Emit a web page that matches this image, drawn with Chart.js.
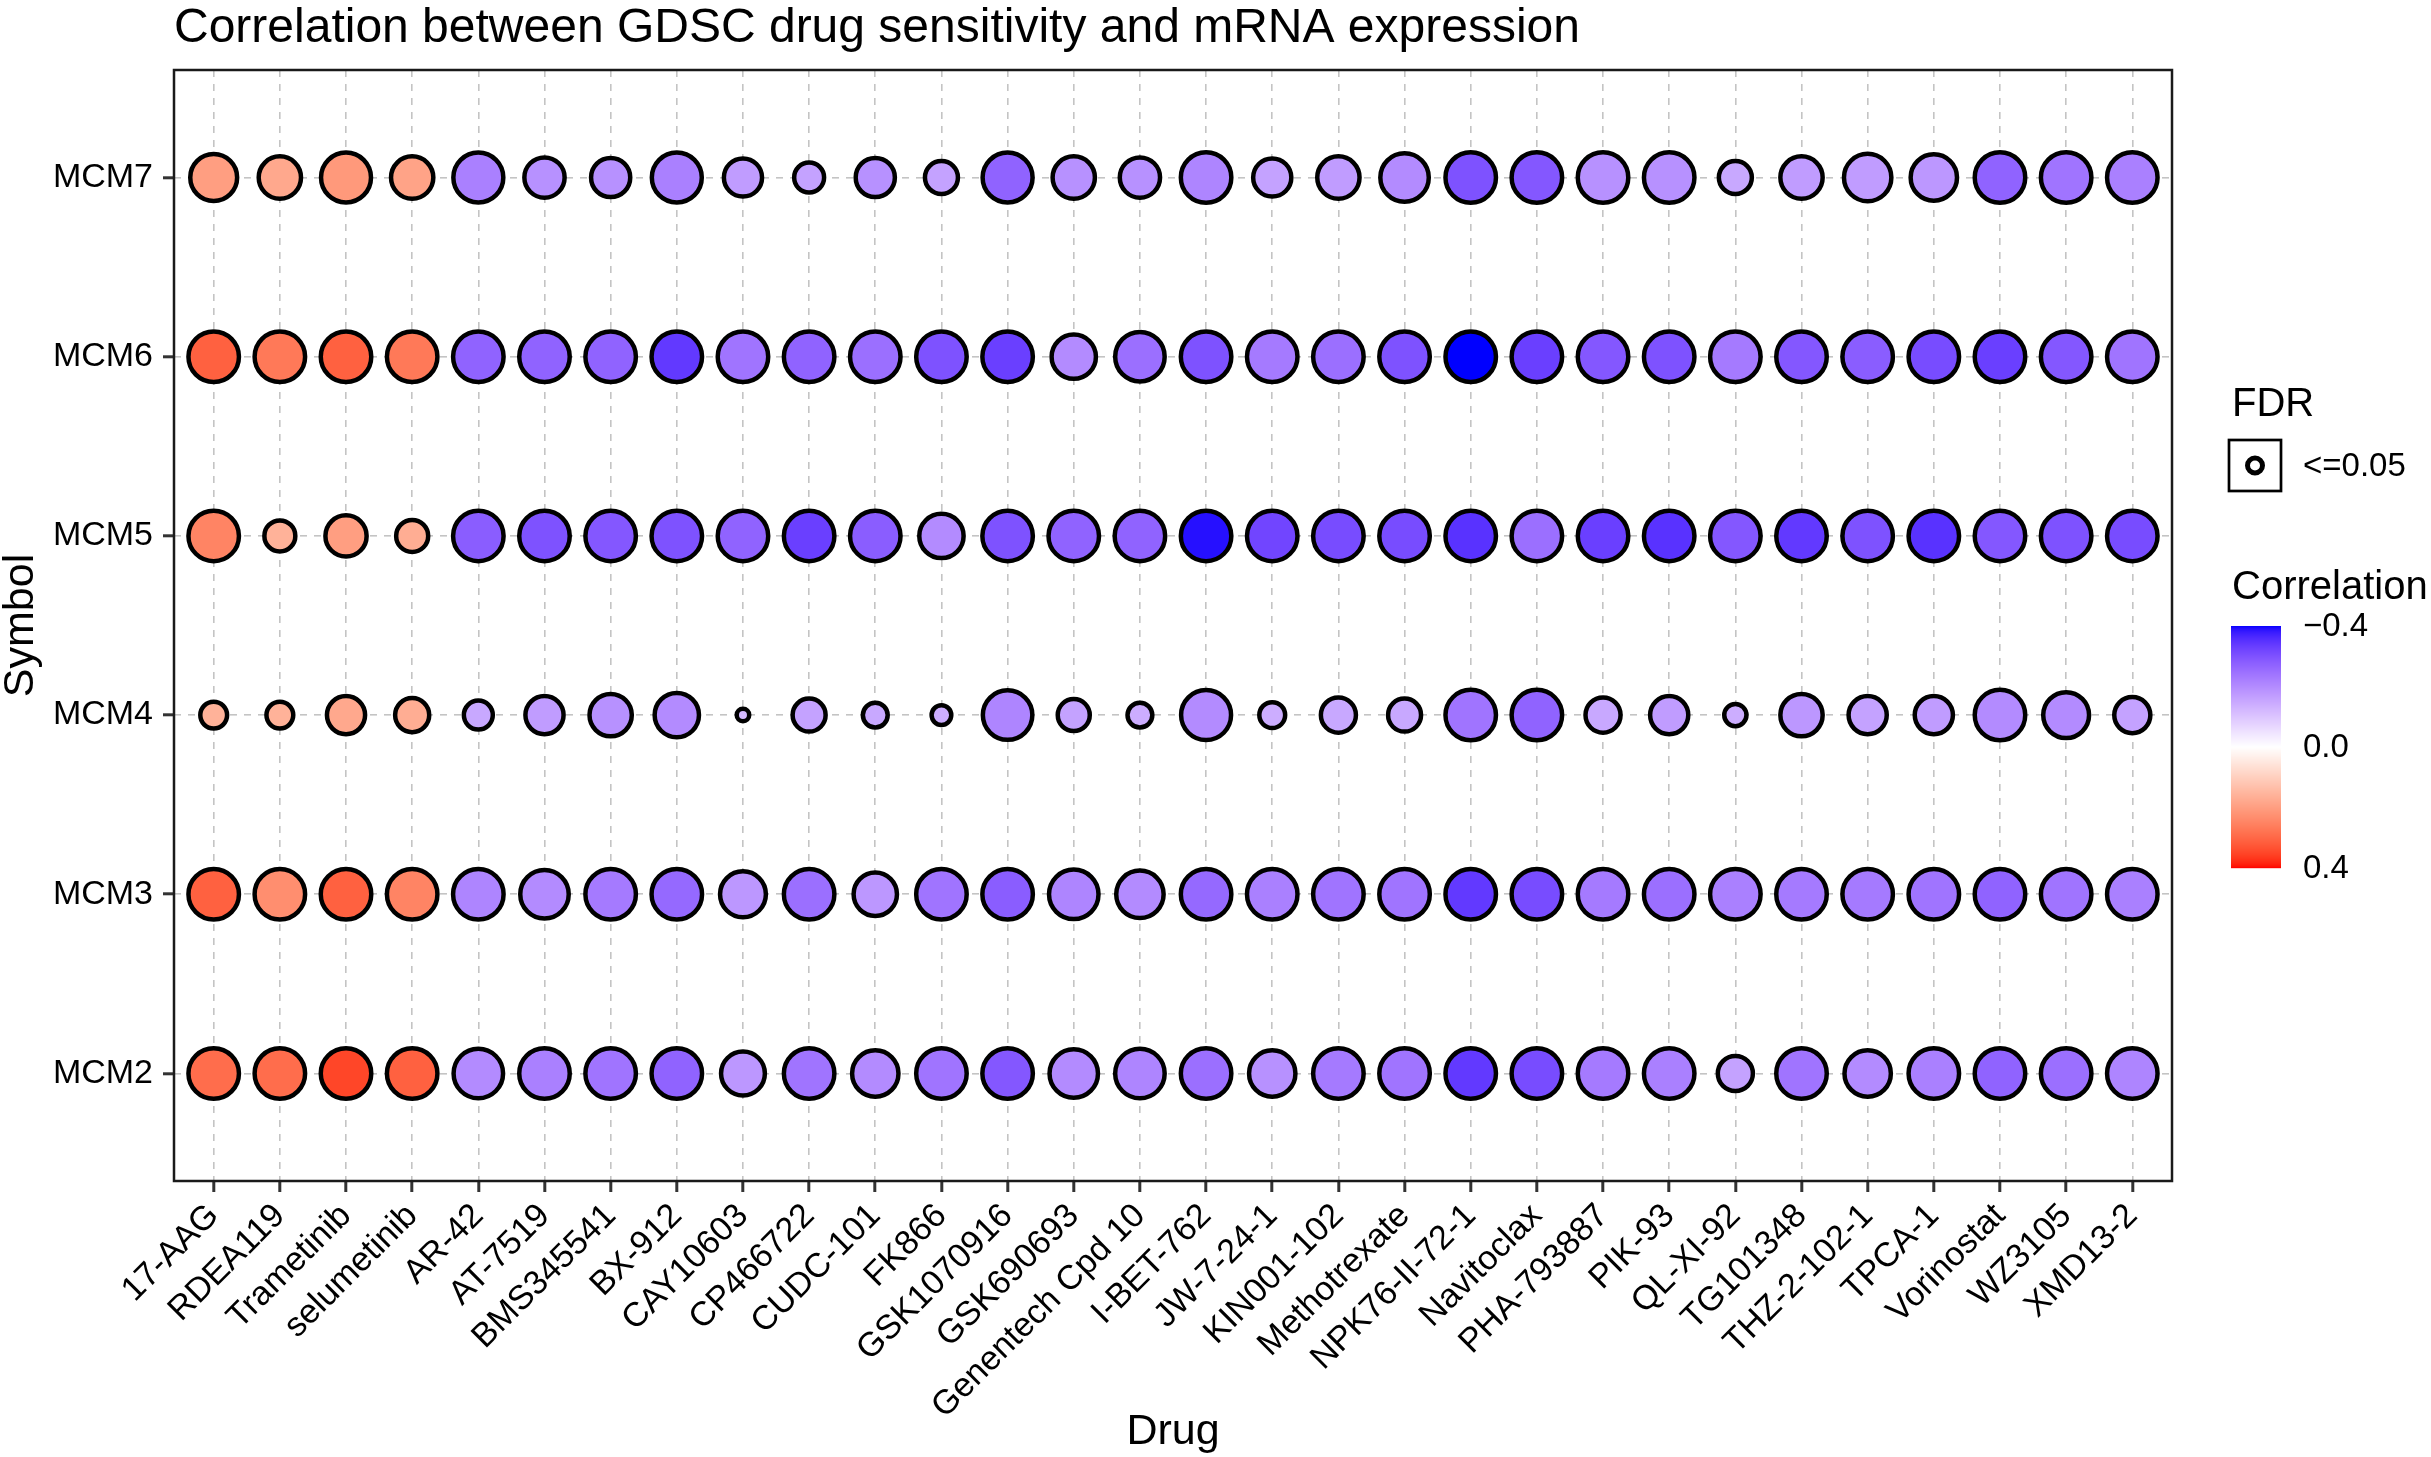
<!DOCTYPE html>
<html>
<head>
<meta charset="utf-8">
<script src="https://cdn.jsdelivr.net/npm/chart.js@4.4.0/dist/chart.umd.min.js"></script>
<style>
html, body { margin: 0; padding: 0; background: #fff; }
canvas { display: block; }
</style>
</head>
<body>
<canvas id="dot_Chart" width="2431" height="1457"></canvas>
<script>
// categories
var drugs = ['17-AAG', 'RDEA119', 'Trametinib', 'selumetinib', 'AR-42', 'AT-7519', 'BMS345541', 'BX-912',
	'CAY10603', 'CP466722', 'CUDC-101', 'FK866', 'GSK1070916', 'GSK690693', 'Genentech Cpd 10', 'I-BET-762',
	'JW-7-24-1', 'KIN001-102', 'Methotrexate', 'NPK76-II-72-1', 'Navitoclax', 'PHA-793887', 'PIK-93',
	'QL-XI-92', 'TG101348', 'THZ-2-102-1', 'TPCA-1', 'Vorinostat', 'WZ3105', 'XMD13-2'];
var symbols = ['MCM7', 'MCM6', 'MCM5', 'MCM4', 'MCM3', 'MCM2'];

// correlation (colour), one value per drug
var corMCM7 = [0.20, 0.18, 0.21, 0.19, -0.22, -0.19, -0.19, -0.22, -0.17, -0.16, -0.19, -0.16, -0.27, -0.19, -0.19, -0.21, -0.16, -0.17, -0.20, -0.30, -0.29, -0.19, -0.19, -0.15, -0.17, -0.17, -0.18, -0.27, -0.24, -0.22];
var corMCM6 = [0.31, 0.27, 0.31, 0.27, -0.27, -0.27, -0.27, -0.34, -0.24, -0.27, -0.25, -0.30, -0.33, -0.20, -0.25, -0.30, -0.23, -0.25, -0.30, -0.40, -0.33, -0.29, -0.30, -0.23, -0.29, -0.28, -0.31, -0.33, -0.29, -0.24];
var corMCM5 = [0.25, 0.16, 0.20, 0.17, -0.28, -0.30, -0.29, -0.30, -0.27, -0.33, -0.28, -0.20, -0.30, -0.27, -0.27, -0.39, -0.32, -0.31, -0.31, -0.35, -0.25, -0.33, -0.35, -0.29, -0.34, -0.30, -0.35, -0.29, -0.30, -0.31];
var corMCM4 = [0.16, 0.16, 0.18, 0.17, -0.15, -0.17, -0.19, -0.20, -0.12, -0.16, -0.15, -0.14, -0.21, -0.16, -0.14, -0.20, -0.14, -0.15, -0.15, -0.24, -0.27, -0.15, -0.17, -0.14, -0.18, -0.16, -0.17, -0.20, -0.20, -0.16];
var corMCM3 = [0.31, 0.23, 0.31, 0.25, -0.21, -0.20, -0.23, -0.26, -0.18, -0.25, -0.18, -0.24, -0.28, -0.21, -0.20, -0.26, -0.22, -0.24, -0.24, -0.34, -0.31, -0.23, -0.25, -0.22, -0.23, -0.23, -0.24, -0.27, -0.24, -0.22];
var corMCM2 = [0.29, 0.29, 0.35, 0.31, -0.20, -0.22, -0.24, -0.27, -0.18, -0.24, -0.20, -0.24, -0.29, -0.20, -0.21, -0.25, -0.19, -0.23, -0.24, -0.34, -0.31, -0.23, -0.22, -0.16, -0.24, -0.20, -0.22, -0.27, -0.25, -0.21];

// -log10(FDR) (point size)
var fdrMCM7 = [34.1, 27.3, 39.1, 27.3, 39.1, 24.5, 23.1, 39.1, 21.8, 12.7, 23.1, 15.8, 39.1, 27.3, 24.5, 40, 21.8, 27.3, 36.6, 40, 40, 40, 40, 15.8, 27.3, 34.9, 33.3, 40, 40, 40];
var fdrMCM6 = [40, 40, 40, 40, 40, 40, 40, 40, 40, 40, 40, 40, 40, 30.2, 38.3, 40, 40, 40, 40, 40, 40, 40, 40, 40, 40, 40, 40, 40, 40, 40];
var fdrMCM5 = [40, 13.7, 25.8, 14.8, 40, 40, 40, 40, 40, 40, 40, 30.2, 40, 40, 40, 40, 40, 40, 40, 40, 40, 40, 40, 40, 40, 40, 40, 40, 40, 40];
var fdrMCM4 = [9.9, 9.9, 21.8, 17.0, 11.8, 21.8, 27.3, 30.2, 1.5, 15.8, 8.3, 4.8, 38.3, 14.8, 8.3, 39.1, 9.1, 18.1, 15.8, 40, 40, 18.1, 21.8, 6.4, 27.3, 21.8, 21.8, 40, 32.5, 19.3];
var fdrMCM3 = [40, 40, 40, 40, 40, 36.6, 40, 40, 32.5, 40, 28.8, 40, 40, 38.3, 34.9, 40, 40, 40, 40, 40, 40, 40, 40, 40, 40, 40, 40, 40, 40, 40];
var fdrMCM2 = [40, 40, 40, 40, 38.3, 40, 40, 40, 29.5, 40, 33.3, 40, 40, 36.6, 38.3, 40, 33.3, 40, 40, 40, 40, 40, 40, 18.1, 40, 33.3, 40, 40, 40, 40];

var corRows = [corMCM7, corMCM6, corMCM5, corMCM4, corMCM3, corMCM2];
var fdrRows = [fdrMCM7, fdrMCM6, fdrMCM5, fdrMCM4, fdrMCM3, fdrMCM2];
var corLimit = 0.4;
var corTicks = [-0.4, 0.0, 0.4];

var FONT = "'Liberation Sans', Arial, sans-serif";
var BORDER_W = 4.5;

// ---- colour: white -> blue / red, mixed in Lab like ggplot's gradient2
function toLin(c) { c = c / 255; return c <= 0.04045 ? c / 12.92 : Math.pow((c + 0.055) / 1.055, 2.4); }
function fromLin(c) { c = c <= 0.0031308 ? 12.92 * c : 1.055 * Math.pow(c, 1 / 2.4) - 0.055; return Math.round(Math.max(0, Math.min(1, c)) * 255); }
function rgb2lab(r, g, b) {
	r = toLin(r); g = toLin(g); b = toLin(b);
	var x = (0.4124 * r + 0.3576 * g + 0.1805 * b) / 0.95047;
	var y = (0.2126 * r + 0.7152 * g + 0.0722 * b);
	var z = (0.0193 * r + 0.1192 * g + 0.9505 * b) / 1.08883;
	var f = function (t) { return t > 0.008856 ? Math.cbrt(t) : 7.787 * t + 16 / 116; };
	return [116 * f(y) - 16, 500 * (f(x) - f(y)), 200 * (f(y) - f(z))];
}
function lab2rgb(L, a, b) {
	var fy = (L + 16) / 116, fx = fy + a / 500, fz = fy - b / 200;
	var inv = function (t) { return t * t * t > 0.008856 ? t * t * t : (t - 16 / 116) / 7.787; };
	var x = 0.95047 * inv(fx), y = inv(fy), z = 1.08883 * inv(fz);
	var r = 3.2406 * x - 1.5372 * y - 0.4986 * z;
	var g = -0.9689 * x + 1.8758 * y + 0.0415 * z;
	var bb = 0.0557 * x - 0.2040 * y + 1.0570 * z;
	return 'rgb(' + fromLin(r) + ',' + fromLin(g) + ',' + fromLin(bb) + ')';
}
var labWhite = rgb2lab(255, 255, 255);
var labBlue = rgb2lab(0, 0, 255);
var labRed = rgb2lab(255, 0, 0);
function corColor(v) {
	var t = Math.min(1, Math.abs(v) / corLimit);
	var end = v < 0 ? labBlue : labRed;
	return lab2rgb(labWhite[0] + (end[0] - labWhite[0]) * t,
		labWhite[1] + (end[1] - labWhite[1]) * t,
		labWhite[2] + (end[2] - labWhite[2]) * t);
}

// ---- size: area-like scale on -log10(FDR)
var sizeDomain = [1.5, 40];
var diamRange = [17, 55];
function radiusOf(v) {
	var s = (Math.sqrt(v) - Math.sqrt(sizeDomain[0])) / (Math.sqrt(sizeDomain[1]) - Math.sqrt(sizeDomain[0]));
	s = Math.max(0, Math.min(1, s));
	var d = diamRange[0] + (diamRange[1] - diamRange[0]) * s;
	return d / 2 - BORDER_W / 2;
}

var datasets = symbols.map(function (sym, i) {
	return {
		label: sym,
		data: drugs.map(function (d, j) {
			return { x: j, y: i, r: radiusOf(fdrRows[i][j]), cor: corRows[i][j] };
		}),
		backgroundColor: function (c) { return c.raw ? corColor(c.raw.cor) : '#fff'; },
		borderColor: '#000',
		borderWidth: BORDER_W,
		hoverBorderWidth: BORDER_W
	};
});

// panel border + legends (FDR key and colour bar)
var panelAndLegend = {
	id: 'panelAndLegend',
	afterDraw: function (chart) {
		var c = chart.ctx, a = chart.chartArea;
		c.save();
		c.strokeStyle = '#1a1a1a';
		c.lineWidth = 2.5;
		c.strokeRect(a.left, a.top, a.right - a.left, a.bottom - a.top);

		c.fillStyle = '#000';
		c.textBaseline = 'middle';
		c.textAlign = 'left';
		c.font = '40px ' + FONT;
		c.fillText('FDR', 2232, 405);

		c.lineWidth = 2.7;
		c.strokeStyle = '#000';
		c.strokeRect(2229, 440, 52, 51);
		c.beginPath();
		c.arc(2255, 465.5, 7.5, 0, Math.PI * 2);
		c.fillStyle = '#fff';
		c.fill();
		c.lineWidth = 5;
		c.stroke();

		c.fillStyle = '#000';
		c.font = '33px ' + FONT;
		c.fillText('<=0.05', 2303, 467);
		c.font = '40px ' + FONT;
		c.fillText('Correlation', 2232, 588);

		var barTop = 626, barBot = 868, barL = 2231, barW = 50;
		for (var y = barTop; y < barBot; y++) {
			var v = -corLimit + (y + 0.5 - barTop) / (barBot - barTop) * 2 * corLimit;
			c.fillStyle = corColor(v);
			c.fillRect(barL, y, barW, 1.2);
		}
		c.fillStyle = '#000';
		c.font = '33px ' + FONT;
		corTicks.forEach(function (t) {
			var ty = barTop + (t + corLimit) / (2 * corLimit) * (barBot - barTop);
			var txt = (t < 0 ? '\u2212' : '') + Math.abs(t).toFixed(1);
			c.fillText(txt, 2303, ty + 1);
		});
		c.restore();
	}
};

var ctx = document.getElementById('dot_Chart').getContext('2d');
var dotChart = new Chart(ctx, {
	type: 'bubble',
	data: { datasets: datasets },
	options: {
		responsive: false,
		animation: false,
		devicePixelRatio: 1,
		layout: { padding: { left: 0, right: 259, top: 0, bottom: 0 } },
		plugins: {
			legend: { display: false },
			tooltip: { enabled: false },
			title: {
				display: true,
				text: 'Correlation between GDSC drug sensitivity and mRNA expression',
				align: 'start',
				fullSize: false,
				color: '#000',
				font: { family: FONT, size: 48, weight: 'normal', lineHeight: 1.2 },
				padding: { top: 0, bottom: 12.4 }
			}
		},
		scales: {
			x: {
				type: 'linear',
				min: -0.6,
				max: 29.6,
				afterBuildTicks: function (s) { s.ticks = drugs.map(function (d, i) { return { value: i }; }); },
				afterFit: function (s) { s.height = 276; },
				ticks: {
					autoSkip: false,
					minRotation: 45,
					maxRotation: 45,
					padding: 4,
					color: '#000',
					font: { family: FONT, size: 34 },
					callback: function (v) { return drugs[v]; }
				},
				grid: {
					color: '#c4c4c4',
					lineWidth: 1.6,
					tickColor: '#333',
					tickWidth: 3,
					tickLength: 11,
					tickBorderDash: []
				},
				border: { display: false, dash: [7, 7] },
				title: {
					display: true,
					text: 'Drug',
					color: '#000',
					font: { family: FONT, size: 43, lineHeight: 1.0 },
					padding: { top: 0, bottom: 3 }
				}
			},
			y: {
				type: 'linear',
				reverse: true,
				min: -0.6,
				max: 5.6,
				afterBuildTicks: function (s) { s.ticks = symbols.map(function (d, i) { return { value: i }; }); },
				afterFit: function (s) { s.width = 174; },
				ticks: {
					padding: 10,
					color: '#000',
					font: { family: FONT, size: 34 },
					callback: function (v) { return symbols[v]; }
				},
				grid: {
					color: '#c4c4c4',
					lineWidth: 1.6,
					tickColor: '#333',
					tickWidth: 3,
					tickLength: 11,
					tickBorderDash: []
				},
				border: { display: false, dash: [7, 7] },
				title: {
					display: true,
					text: 'Symbol',
					color: '#000',
					font: { family: FONT, size: 43, lineHeight: 1.0 },
					padding: { top: 0, bottom: 0 }
				}
			}
		}
	},
	plugins: [panelAndLegend]
});
</script>
</body>
</html>
